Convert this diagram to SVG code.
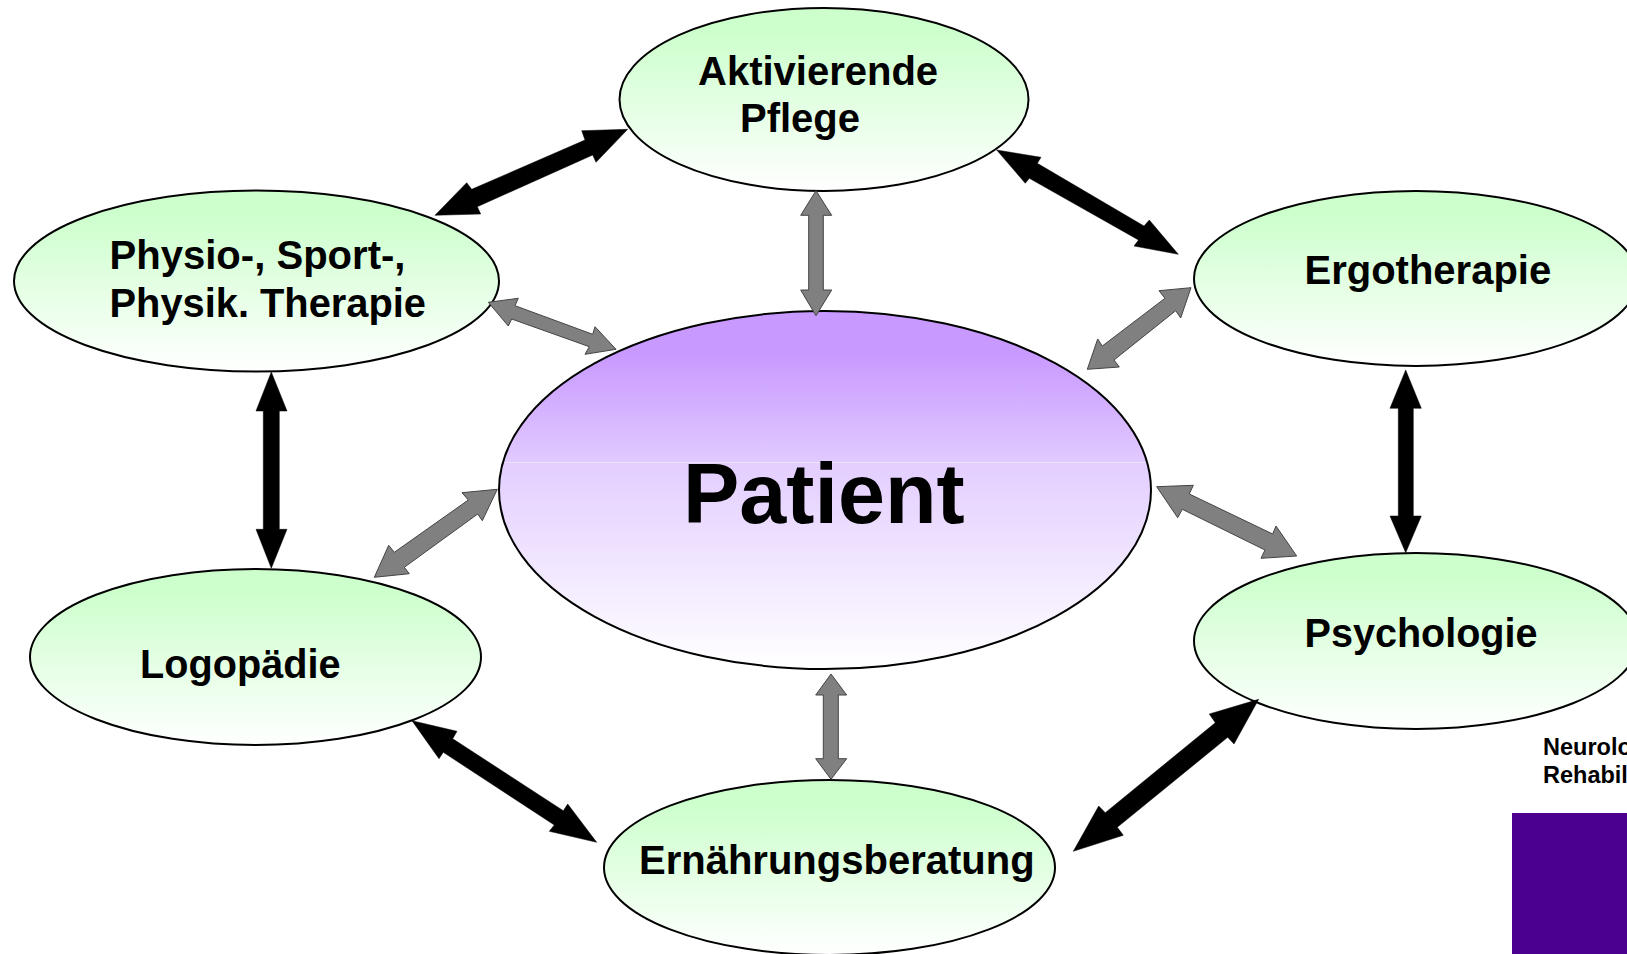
<svg xmlns="http://www.w3.org/2000/svg" width="1627" height="954" viewBox="0 0 1627 954">
<style>
text{font-family:"Liberation Sans",Arial,sans-serif;font-weight:bold;fill:#000}
.lbl{font-size:40px}
.small{font-size:23.5px}
.node{stroke:#000;stroke-width:2}
.green{fill:url(#g)}
.blk{fill:#000;stroke:#000;stroke-width:.5}
.gry{fill:#808080;stroke:#444;stroke-width:1}
</style>
<defs>
<linearGradient id="g" x1="0" y1="0" x2="0" y2="1"><stop offset="0" stop-color="#ccffcc"/><stop offset=".12" stop-color="#ccffcc"/><stop offset="1" stop-color="#fff"/></linearGradient>
<linearGradient id="p" x1="0" y1="0" x2="0" y2="1"><stop offset="0" stop-color="#c899ff"/><stop offset=".12" stop-color="#c899ff"/><stop offset=".421" stop-color="#e1caff"/><stop offset=".4215" stop-color="#eee1ff"/><stop offset=".4255" stop-color="#eee1ff"/><stop offset=".426" stop-color="#e3ceff"/><stop offset="1" stop-color="#fff"/></linearGradient>
</defs>
<rect width="1627" height="954" fill="#fff"/>
<g id="patient"><ellipse class="node" cx="825" cy="490" rx="326" ry="179" fill="url(#p)"/><text x="683" y="523" font-size="84.5">Patient</text></g>
<g id="pflege"><ellipse class="node green" cx="824" cy="99.5" rx="204.5" ry="91.5"/><text class="lbl" x="698" y="85">Aktivierende</text><text class="lbl" x="740" y="132">Pflege</text></g>
<g id="physio"><ellipse class="node green" cx="256.5" cy="281" rx="242.5" ry="90.5"/><text class="lbl" x="109.5" y="269" textLength="296" lengthAdjust="spacingAndGlyphs">Physio-, Sport-,</text><text class="lbl" x="109.5" y="317" textLength="316.5" lengthAdjust="spacingAndGlyphs">Physik. Therapie</text></g>
<g id="ergo"><ellipse class="node green" cx="1416" cy="278.5" rx="222" ry="87.5"/><text class="lbl" x="1304.5" y="284">Ergotherapie</text></g>
<g id="psycho"><ellipse class="node green" cx="1416" cy="641" rx="222" ry="88"/><text class="lbl" x="1304.5" y="647" textLength="233" lengthAdjust="spacingAndGlyphs">Psychologie</text></g>
<g id="logo"><ellipse class="node green" cx="255.5" cy="657" rx="225.5" ry="88"/><text class="lbl" x="140" y="678" textLength="200.5" lengthAdjust="spacingAndGlyphs">Logopädie</text></g>
<g id="ernaehrung"><ellipse class="node green" cx="829.5" cy="867.5" rx="225.5" ry="87.5"/><text class="lbl" x="639" y="874">Ernährungsberatung</text></g>
<g id="connectors">
<polygon class="blk" points="627.7,129.3 581.7,130.7 585,140 471.7,189.3 466.7,182.7 435,215.3 480.7,214 477.3,206.7 592.7,155 596,162.3"/>
<polygon class="blk" points="996.7,150 1041,157.3 1037.3,163.3 1144,226 1149.3,220 1178.3,254.3 1134,246 1138.5,240 1029.3,178.3 1025.3,183.3"/>
<polygon class="blk" points="271.3,372 287,411 279.3,411 279.3,529.3 287,529.3 271.3,568.3 256,529.3 263.3,529.3 263.3,411 256,411"/>
<polygon class="blk" points="1405.7,370 1421.3,408.3 1413.3,408.3 1413.3,516 1421.3,516 1405.7,552.7 1390,516 1398.3,516 1398.3,408.3 1390,408.3"/>
<polygon class="blk" points="1258.7,699.3 1209.3,714 1215.3,722.7 1105.3,812.7 1098.7,806 1073.3,851.3 1123.3,835.3 1117.3,827.3 1227.7,737.3 1234,744"/>
<polygon class="blk" points="412,720.7 457,731.3 452.7,738.7 563.3,810.7 567.7,804 596.7,842.3 549.3,831.3 554.3,825 443.3,752.3 439,758.7"/>
<polygon class="gry" points="488.3,302.3 518.3,298.3 515,305.7 592.7,334.3 595,326.7 616,349.3 585,354.3 589.3,346.7 511.7,319 508.3,326"/>
<polygon class="gry" points="816,190.7 831.7,215.3 823.3,215.3 823.3,290 831.7,290 816,315.7 800.7,290 808.7,290 808.7,215.3 800.7,215.3"/>
<polygon class="gry" points="1191,287.7 1159,290.7 1165,298.3 1102.3,346 1097.7,339 1087.3,369.3 1119.3,367 1114,360 1175.7,310.7 1180.7,318"/>
<polygon class="gry" points="1156.7,486.7 1193.3,485.3 1189.3,494 1272.7,534 1276,526 1296.7,556 1261,558.3 1265,550 1182.3,509.3 1177.7,517.7"/>
<polygon class="gry" points="831,674 846.7,695 838.3,695 838.3,758.7 846.7,758.7 831,779.3 815.7,758.7 823.3,758.7 823.3,695 815.7,695"/>
<polygon class="gry" points="497.3,489.3 462,492.7 468.3,500 394.3,552.3 388.7,545.3 374.3,577.3 409.3,573.7 404.3,567.3 477.7,514 482.3,520.7"/>
</g>
<g id="logo-block"><text class="small" x="1543" y="755">Neurolo</text><text class="small" x="1543" y="783">Rehabil</text><rect x="1512" y="813" width="115" height="141" fill="#4b0090"/></g>
</svg>
